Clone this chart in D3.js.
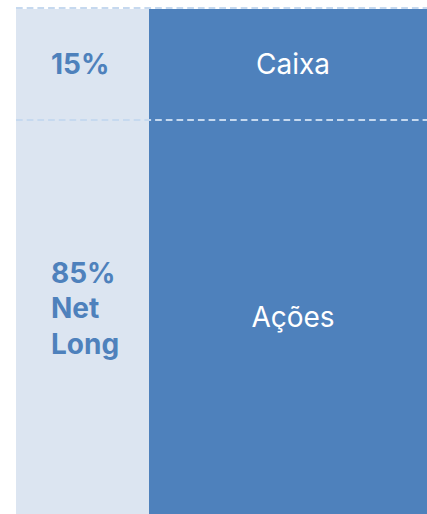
<!DOCTYPE html>
<html><head><meta charset="utf-8">
<script src="https://cdn.jsdelivr.net/npm/d3@7"></script>
<style>html,body{margin:0;padding:0;background:#fff;overflow:hidden}svg{display:block}</style>
</head><body><div id="chart"></div>
<script>
const categories = ["Caixa", "Ações"];
const values = [15, 85];
const sideLabels = [["15%"], ["85%", "Net", "Long"]];

(function () {
const W = 427, H = 514;
const svg = d3.select("#chart").append("svg").attr("width", W).attr("height", H);

const leftX = 16, splitX = 149, rightX = 437, topY = 9, fullBottom = 749;
const y = d3.scaleLinear().domain([0, d3.sum(values)]).range([topY, fullBottom]);
const x = d3.scaleLinear().domain([0, 1]).range([splitX, rightX]);

let acc = 0;
const segs = values.map((v, i) => {
  const s = { cat: categories[i], v, y0: acc, y1: acc + v, side: sideLabels[i] };
  acc += v; return s;
});

svg.append("rect").attr("x", leftX).attr("y", y(0)).attr("width", splitX - leftX)
  .attr("height", y(100) - y(0)).attr("fill", "#dce5f1");

svg.selectAll("rect.seg").data(segs).join("rect").attr("class", "seg")
  .attr("x", x(0)).attr("width", x(1) - x(0))
  .attr("y", d => y(d.y0)).attr("height", d => y(d.y1) - y(d.y0))
  .attr("fill", "#4e81bc");

svg.selectAll("line.b").data(segs).join("line").attr("class", "b")
  .attr("x1", leftX).attr("x2", W)
  .attr("y1", d => y(d.y0) - (d.y0 === 0 ? 1 : 0)).attr("y2", d => y(d.y0) - (d.y0 === 0 ? 1 : 0))
  .attr("stroke", "#c6d9ef").attr("stroke-width", 2).attr("stroke-dasharray", "6.7,4");

const mid = d => (y(d.y0) + Math.min(y(d.y1), H)) / 2;

svg.selectAll("text.cat").data(segs).join("text").attr("class", "cat")
  .attr("x", (x(0) + x(1)) / 2).attr("y", mid).attr("dy", "0.35em")
  .attr("text-anchor", "middle").attr("fill", "#fff")
  .attr("font-family", "Inter, sans-serif").attr("font-size", 28)
  .text(d => d.cat);

segs.forEach(d => {
  const n = d.side.length, lh = 35.5;
  const c = mid(d) - (n > 1 ? 8.5 : 0);
  const t = svg.append("text").attr("fill", "#4e81bc").attr("font-weight", 700)
    .attr("font-family", "Inter, sans-serif").attr("font-size", 28);
  d.side.forEach((s, k) => {
    t.append("tspan").attr("x", 51).attr("y", c + (k - (n - 1) / 2) * lh).attr("dy", "0.35em").text(s);
  });
});
})();
</script></body></html>
